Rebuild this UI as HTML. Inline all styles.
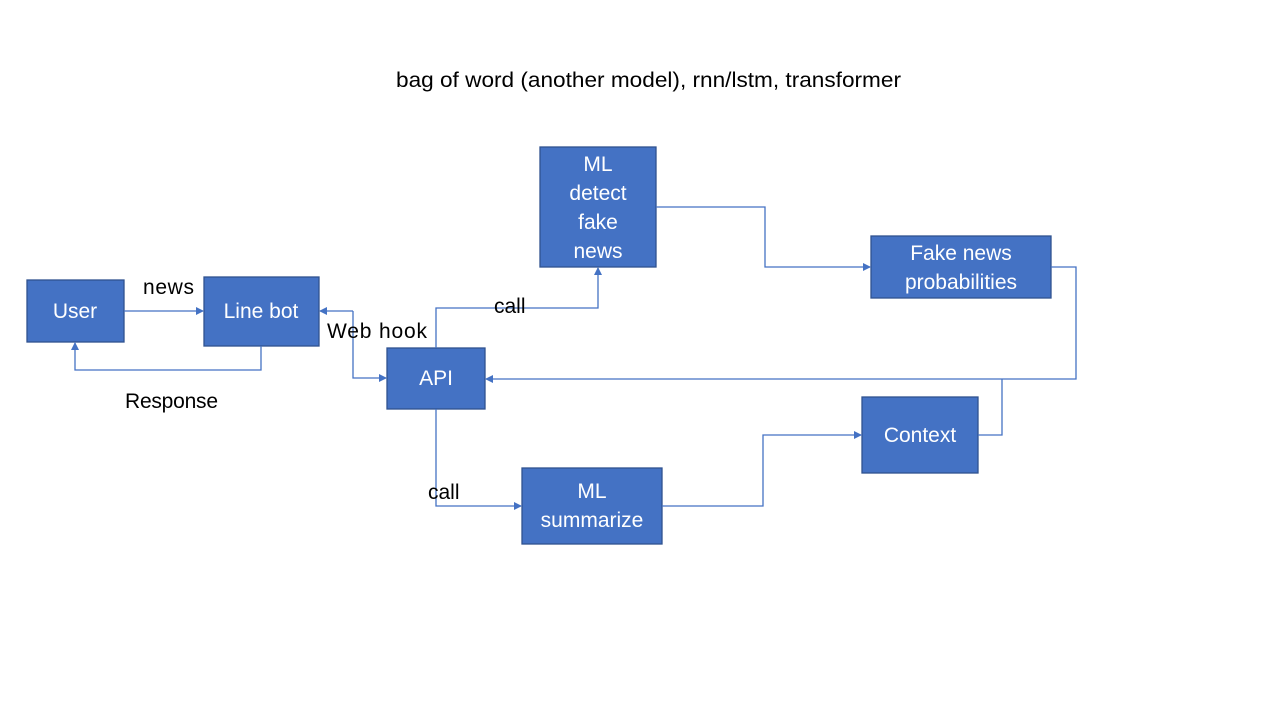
<!DOCTYPE html>
<html><head><meta charset="utf-8"><style>
body{margin:0;width:1280px;height:720px;background:#fff;overflow:hidden;font-family:"Liberation Sans",sans-serif;}
</style></head><body>
<svg width="1280" height="720" xmlns="http://www.w3.org/2000/svg" font-family="Liberation Sans, sans-serif">
<defs><marker id="a" markerWidth="8" markerHeight="8" refX="7" refY="4" orient="auto" markerUnits="userSpaceOnUse"><path d="M0,0 L8,4 L0,8 z" fill="#4472C4"/></marker></defs>
<g fill="#4472C4" stroke="#2F528F" stroke-width="1.3">
<rect x="27" y="280" width="97" height="62"/>
<rect x="204" y="277" width="115" height="69"/>
<rect x="387" y="348" width="98" height="61"/>
<rect x="540" y="147" width="116" height="120"/>
<rect x="871" y="236" width="180" height="62"/>
<rect x="862" y="397" width="116" height="76"/>
<rect x="522" y="468" width="140" height="76"/>
</g>
<g fill="none" stroke="#4472C4" stroke-width="1.3">
<path d="M124,311 H203" marker-end="url(#a)"/>
<path d="M261,346 V370 H75 V343" marker-end="url(#a)"/>
<path d="M353,311 V378 H386" marker-end="url(#a)"/>
<path d="M353,311 H320" marker-end="url(#a)"/>
<path d="M436,348 V308 H598 V268" marker-end="url(#a)"/>
<path d="M656,207 H765 V267 H870" marker-end="url(#a)"/>
<path d="M1051,267 H1076 V379 H486" marker-end="url(#a)"/>
<path d="M978,435 H1002 V379"/>
<path d="M436,409 V506 H521" marker-end="url(#a)"/>
<path d="M662,506 H763 V435 H861" marker-end="url(#a)"/>
</g>
<g fill="#fff" font-size="21" text-anchor="middle">
<text x="75" y="318">User</text>
<text x="261" y="318">Line bot</text>
<text x="436" y="385">API</text>
<text x="598" y="171">ML</text>
<text x="598" y="200">detect</text>
<text x="598" y="229">fake</text>
<text x="598" y="258">news</text>
<text x="961" y="260">Fake news</text>
<text x="961" y="289">probabilities</text>
<text x="920" y="442">Context</text>
<text x="592" y="498">ML</text>
<text x="592" y="527">summarize</text>
</g>
<g fill="#000" font-size="21">
<text x="396" y="87" textLength="505" lengthAdjust="spacingAndGlyphs">bag of word (another model), rnn/lstm, transformer</text>
<text x="143" y="294" textLength="51">news</text>
<text x="125" y="408" textLength="93">Response</text>
<text x="327" y="338" textLength="100">Web hook</text>
<text x="494" y="313">call</text>
<text x="428" y="499">call</text>
</g>
</svg>
</body></html>
